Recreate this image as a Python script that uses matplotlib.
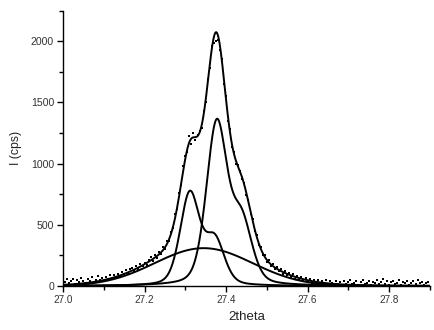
import numpy as np
import matplotlib
matplotlib.use("Agg")
import matplotlib.pyplot as plt
from matplotlib.ticker import MultipleLocator

plt.rcParams['font.family'] = ['Liberation Sans', 'DejaVu Sans']

# ---- measured data (2theta from 27.000 in steps of 0.005) ----
x_start = 27.0
x_step = 0.005
counts = [
    48, 35, 62, 22, 41, 55, 18, 47, 30, 66, 38, 25, 58, 44, 71, 36, 52, 80, 47, 63,
    39, 72, 55, 88, 61, 94, 70, 99, 79, 112, 96, 131, 104, 138, 150, 122, 168, 141, 183, 162,
    190, 171, 214, 236, 203, 254, 232, 281, 262, 318, 301, 372, 366, 441, 475, 590, 628, 762, 822, 978,
    1061, 1098, 1224, 1163, 1252, 1190, 1237, 1268, 1290, 1427, 1502, 1689, 1781, 1962, 1985, 1998, 2012, 1931, 1858, 1652,
    1549, 1351, 1281, 1132, 1098, 996, 989, 941, 872, 846, 741, 703, 592, 551, 452, 421, 338, 322, 258, 251,
    196, 210, 163, 182, 139, 158, 121, 140, 98, 124, 87, 110, 76, 97, 58, 84, 49, 73, 41, 66,
    30, 58, 27, 51, 22, 47, 15, 42, 26, 53, 12, 38, 29, 9, 44, 21, 35, 6, 40, 18,
    31, 48, 14, 27, 39, 8, 33, 52, 19, 28, 41, 11, 36, 24, 47, 16, 30, 55, 21, 38,
    9, 33, 45, 17, 26, 50, 12, 35, 23, 43, 7, 29, 39, 15, 46, 22, 34, 10, 28, 37,
]

# ---- fitted peak parameters (pseudo-Voigt doublets + broad gaussian) ----
peakA_centers = [27.311, 27.372]
peakA_heights = [750, 370]
peakA_hwhm = 0.028
peakB_centers = [27.377, 27.438]
peakB_heights = [1315, 510]
peakB_hwhm = 0.030
eta = 0.3
broad_center = 27.345
broad_height = 310
broad_sigma = 0.12

x_data = x_start + x_step * np.arange(len(counts))
xf = np.linspace(27.0, 27.9, 1200)


def pvoigt(x, c, h, w):
    r = (x - c) / w
    return h * ((1 - eta) * np.exp(-np.log(2) * r ** 2) + eta / (1 + r ** 2))


compA = sum(pvoigt(xf, c, h, peakA_hwhm) for c, h in zip(peakA_centers, peakA_heights))
compB = sum(pvoigt(xf, c, h, peakB_hwhm) for c, h in zip(peakB_centers, peakB_heights))
broad = broad_height * np.exp(-(xf - broad_center) ** 2 / (2 * broad_sigma ** 2))
total = compA + compB + broad

fig = plt.figure(figsize=(4.35, 3.3), dpi=100)
ax = fig.add_axes([0.145, 0.133, 0.843, 0.835])

ax.plot(x_data, counts, 's', color='black', markersize=1.9, markeredgewidth=0)
lw = 1.4
for y in (compA, compB, broad, total):
    ax.plot(xf, y, color='black', linewidth=lw)

ax.set_xlim(27.0, 27.9)
ax.set_ylim(0, 2250)
ax.xaxis.set_major_locator(MultipleLocator(0.2))
ax.xaxis.set_minor_locator(MultipleLocator(0.1))
ax.yaxis.set_major_locator(MultipleLocator(500))
ax.yaxis.set_minor_locator(MultipleLocator(250))
ax.xaxis.set_major_formatter(matplotlib.ticker.FormatStrFormatter('%.1f'))

for s in ('top', 'right'):
    ax.spines[s].set_visible(False)
for s in ('left', 'bottom'):
    ax.spines[s].set_linewidth(1.0)

ax.tick_params(axis='both', which='major', direction='out', length=4.5, width=1.0)
ax.tick_params(axis='both', which='minor', direction='out', length=3, width=1.0)
ax.tick_params(axis='x', labelsize=7.2, pad=2, labelcolor='#333333')
ax.tick_params(axis='y', labelsize=7.6, pad=2, labelcolor='#333333')

ax.set_xlabel('2theta', fontsize=9.5, labelpad=4, color='#222222')
ax.set_ylabel('I (cps)', fontsize=8.8, labelpad=6, color='#222222')

fig.savefig('out.png', dpi=100)
